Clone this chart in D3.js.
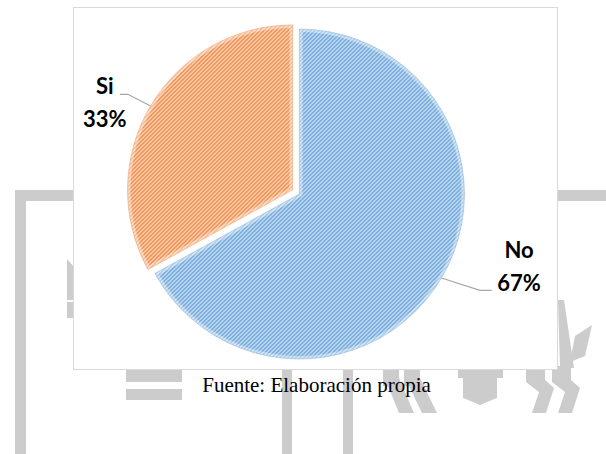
<!DOCTYPE html>
<html>
<head>
<meta charset="utf-8">
<script src="https://cdn.jsdelivr.net/npm/d3@7"></script>
<style>
  html, body { margin: 0; padding: 0; background: #ffffff; }
  svg { display: block; }
</style>
</head>
<body>
<div id="chart"></div>
<script>
// Survey answers and their shares (percent)
const categories = ["No", "Si"];
const values = [67, 33];
const valueLabels = ["67%", "33%"];
const caption = "Fuente: Elaboración propia";

const W = 606, H = 454;
const svg = d3.select("#chart").append("svg")
  .attr("width", W).attr("height", H);

// ---- faint logo in the page background ----
const wm = svg.append("g").attr("fill", "#cccccc");
// frame
wm.append("rect").attr("x", 15).attr("y", 190).attr("width", 600).attr("height", 11);
wm.append("rect").attr("x", 15).attr("y", 190).attr("width", 11).attr("height", 270);
// left fragments
wm.append("polygon").attr("points", "67,259 75,268 75,300 67,300");
wm.append("rect").attr("x", 67).attr("y", 302).attr("width", 8).attr("height", 16);
// bars below the box
wm.append("rect").attr("x", 126).attr("y", 366).attr("width", 56).attr("height", 16);
wm.append("rect").attr("x", 126).attr("y", 389).attr("width", 56).attr("height", 11);
wm.append("rect").attr("x", 282).attr("y", 360).attr("width", 10).attr("height", 100);
wm.append("rect").attr("x", 343).attr("y", 360).attr("width", 10).attr("height", 100);
// slanted legs
wm.append("polygon").attr("points", "383,366 399,366 399,378 414,413 399,413 388,386 383,386");
wm.append("polygon").attr("points", "404,366 420,366 420,378 437,413 422,413 409,386 404,386");
// shield
wm.append("polygon").attr("points", "458,366 503,366 503,378 497,378 497,398 480,405 463,398 463,378 458,378");
// right letters
wm.append("polygon").attr("points", "526,366 545,366 545,380 554,388 546,413 532,413 539,392 526,382");
wm.append("polygon").attr("points", "552,366 571,366 571,380 580,388 572,413 558,413 565,392 552,382");
// stem and leaf on the right
wm.append("polygon").attr("points", "558,300 564,300 574,368 560,368");
wm.append("polygon").attr("points", "570,362 575,336 592,325 585,356");

// ---- chart box ----
svg.append("rect")
  .attr("x", 73.5).attr("y", 7.5).attr("width", 484).attr("height", 362)
  .attr("fill", "#ffffff").attr("stroke", "#d9d9d9").attr("stroke-width", 1);

// ---- hatch fills ----
const fills = {
  No: { bg: "#d3e4f4", line: "#5b9bd5", edge: "#8fb9e3" },
  Si: { bg: "#fbdcc7", line: "#ed7d31", edge: "#f2a572" }
};
const defs = svg.append("defs");
categories.forEach(c => {
  const p = defs.append("pattern")
    .attr("id", "hatch-" + c)
    .attr("patternUnits", "userSpaceOnUse")
    .attr("width", 4).attr("height", 4);
  p.append("rect").attr("width", 4).attr("height", 4).attr("fill", fills[c].bg);
  p.append("path")
    .attr("d", "M-1,1 L1,-1 M0,4 L4,0 M3,5 L5,3")
    .attr("stroke", fills[c].line).attr("stroke-width", 1.3);
});

// ---- pie ----
const cx = 296, cy = 192, R = 165, explode = 4;
const pie = d3.pie().sort(null).value(d => d.value);
const arcs = pie(categories.map((c, i) => ({ cat: c, value: values[i], label: valueLabels[i] })));
const arc = d3.arc().innerRadius(0).outerRadius(R);

arcs.forEach((a, i) => {
  const mid = (a.startAngle + a.endAngle) / 2;
  a.mid = mid;
  a.ox = cx + Math.sin(mid) * explode;
  a.oy = cy - Math.cos(mid) * explode;
  a.rimX = a.ox + Math.sin(mid) * R;
  a.rimY = a.oy - Math.cos(mid) * R;
});

const slices = svg.append("g");
arcs.forEach((a, i) => {
  const c = a.data.cat;
  const g = slices.append("g").attr("transform", `translate(${a.ox},${a.oy})`);
  defs.append("clipPath").attr("id", "clip-" + c)
    .append("path").attr("d", arc(a));
  g.append("path").attr("d", arc(a)).attr("fill", `url(#hatch-${c})`);
  // soft light rim inside the slice edges
  g.append("path").attr("d", arc(a))
    .attr("clip-path", `url(#clip-${c})`)
    .attr("fill", "none").attr("stroke", "#ffffff")
    .attr("stroke-opacity", 0.4).attr("stroke-width", 6);
  g.append("path").attr("d", arc(a))
    .attr("fill", "none").attr("stroke", fills[c].edge)
    .attr("stroke-opacity", 0.7).attr("stroke-width", 0.8);
});

// ---- data labels with leader lines ----
const labelLayout = {
  Si: { x: 104.7, y: 94.3, elbow: [128, 94.3], end: [120, 94.3] },
  No: { x: 519, y: 258.3, elbow: [480, 290.3], end: [491.7, 290.3] }
};
const labels = svg.append("g");
arcs.forEach(a => {
  const L = labelLayout[a.data.cat];
  labels.append("polyline")
    .attr("points", [[a.rimX, a.rimY], L.elbow, L.end].map(p => p.join(",")).join(" "))
    .attr("fill", "none").attr("stroke", "#a6a6a6").attr("stroke-width", 1.2);
  const t = labels.append("text")
    .attr("x", L.x).attr("y", L.y)
    .attr("text-anchor", "middle")
    .attr("font-family", "Lato, 'Open Sans', sans-serif")
    .attr("font-weight", "bold").attr("font-size", 22)
    .attr("fill", "#000000");
  t.append("tspan").attr("x", L.x).attr("y", L.y).text(a.data.cat);
  t.append("tspan").attr("x", L.x).attr("y", L.y + 32.4).text(a.data.label);
});

// ---- source caption ----
svg.append("text")
  .attr("x", 316.5).attr("y", 392)
  .attr("text-anchor", "middle")
  .attr("font-family", "'Liberation Serif', 'Times New Roman', serif")
  .attr("font-size", 21)
  .attr("fill", "#000000")
  .text(caption);
</script>
</body>
</html>
